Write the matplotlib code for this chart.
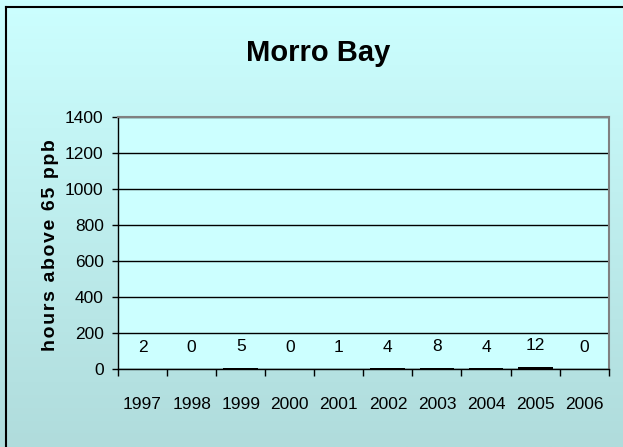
import matplotlib
matplotlib.use("Agg")
import matplotlib.pyplot as plt
import numpy as np
from matplotlib.lines import Line2D
from matplotlib.colors import LinearSegmentedColormap

years = ["1997", "1998", "1999", "2000", "2001", "2002", "2003", "2004", "2005", "2006"]
hours = [2, 0, 5, 0, 1, 4, 8, 4, 12, 0]
yticks = [0, 200, 400, 600, 800, 1000, 1200, 1400]
title = "Morro Bay"
ylabel = "hours above 65 ppb"

plt.rcParams["font.family"] = ["Liberation Sans", "DejaVu Sans"]

fig = plt.figure(figsize=(6.23, 4.47), dpi=100)

# background gradient
bg = fig.add_axes([0, 0, 1, 1], zorder=-10)
cmap = LinearSegmentedColormap.from_list("bg", ["#CCFFFF", "#B0DCDC"])
grad = np.linspace(0, 1, 256).reshape(-1, 1)
bg.imshow(grad, aspect="auto", cmap=cmap, extent=[0, 1, 0, 1], origin="upper")
bg.set_axis_off()

# chart border (left and top visible)
fig.add_artist(Line2D([6/623, 6/623], [0, 1 - 7/447], transform=fig.transFigure, color="black", lw=1.5))
fig.add_artist(Line2D([6/623, 1], [1 - 7/447, 1 - 7/447], transform=fig.transFigure, color="black", lw=1.5))

ax = fig.add_axes([118/623, 1 - 369/447, (608.7 - 118)/623, (369 - 117)/447])
ax.set_facecolor("#CCFFFF")
x = np.arange(len(years))
ax.bar(x, hours, width=0.71, color="black", zorder=3)
ax.set_xlim(-0.5, len(years) - 0.5)
ax.set_ylim(0, 1400)
ax.set_yticks(yticks)
ax.set_yticklabels([str(v) for v in yticks])
ax.yaxis.grid(True, color="black", lw=1.0, zorder=1)
ax.set_axisbelow(True)

ax.set_xticks(x)
ax.set_xticklabels(years)
ax.set_xticks(np.arange(-0.5, len(years)), minor=True)
ax.tick_params(axis="x", which="major", length=0, pad=20, labelsize=12.5)
ax.tick_params(axis="x", which="minor", length=5.3, width=1, color="black", direction="out")
ax.tick_params(axis="y", length=4.3, width=1, pad=6, labelsize=12.5, direction="out")

for s in ["top", "right"]:
    ax.spines[s].set_color("#808080")
    ax.spines[s].set_linewidth(1.5)
for s in ["left", "bottom"]:
    ax.spines[s].set_color("black")
    ax.spines[s].set_linewidth(1.0)

for xi, v in zip(x, hours):
    ax.annotate(str(v), (xi, v), xytext=(0, 12), textcoords="offset points",
                ha="center", va="baseline", fontsize=12.5)

fig.text(318/623, 1 - 61/447, title, ha="center", va="baseline",
         fontsize=21, fontweight="bold")

spaced = "\u200a".join(list(ylabel))
fig.text(51/623, 1 - 245/447, spaced, rotation=90, ha="center", va="center",
         fontsize=14, fontweight="bold")

fig.savefig("out.png", dpi=100)
